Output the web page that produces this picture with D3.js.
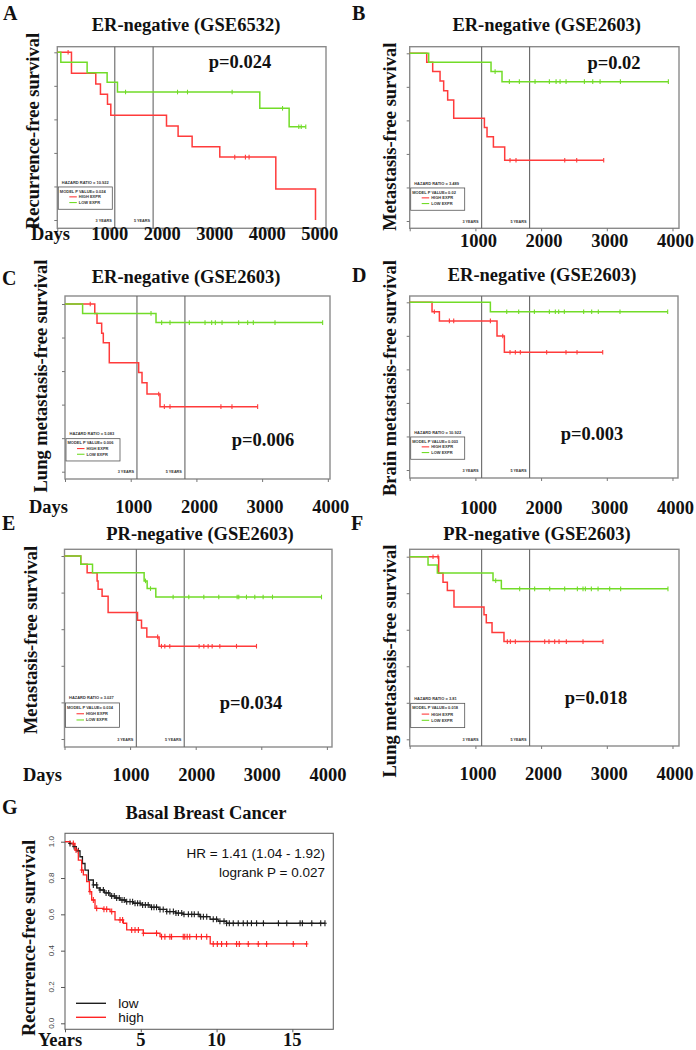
<!DOCTYPE html>
<html><head><meta charset="utf-8">
<script src="https://cdn.jsdelivr.net/npm/d3@7"></script>
<style>body{margin:0;background:#fff}svg{display:block}</style>
</head><body>
<svg id="c" width="696" height="1050"></svg>
<script>
// ---------------- DATA ----------------
const survTicks = [0, 0.2, 0.4, 0.6, 0.8, 1.0];
const dayTicksA = [1000, 2000, 3000, 4000, 5000];
const dayTicks = [1000, 2000, 3000, 4000];
const yearTicks = [5, 10, 15];
const milestones = [1095, 1825];
const milestoneLabels = ["3 YEARS", "5 YEARS"];
const legendLabels = ["HIGH EXPR", "LOW EXPR"];

// Panel A: ER-negative (GSE6532)
const A_high = [[0,1],[270,0.875],[733,0.811],[822,0.75],[956,0.69],[1019,0.624],[2080,0.56],[2301,0.5],[2568,0.437],[3095,0.375],[4162,0.185],[4918,0]];
const A_highEnd = 4918;
const A_highCens = [206, 3380, 3583, 3653];
const A_low = [[0,1],[67,0.94],[568,0.878],[949,0.821],[1146,0.763],[3857,0.666],[4416,0.556]];
const A_lowEnd = 4733;
const A_lowCens = [1300, 2290, 2480, 3330, 4290, 4600, 4646, 4733];

// Panel B: ER-negative (GSE2603) metastasis-free
const B_high = [[0,1],[259,0.946],[350,0.891],[462,0.835],[517,0.777],[578,0.722],[670,0.612],[1137,0.557],[1177,0.503],[1274,0.441],[1446,0.362]];
const B_highEnd = 2953;
const B_highCens = [1527, 1618, 2360, 2542, 2953];
const B_low = [[0,1],[289,0.946],[1238,0.891],[1405,0.831]];
const B_lowEnd = 3937;
const B_lowCens = [1300, 1517, 1669, 1908, 2126, 2228, 2289, 2380, 2659, 2786, 2898, 3207, 3937];

// Panel C: lung metastasis-free
const C_high = [[0,1],[453,0.944],[487,0.885],[558,0.825],[583,0.769],[674,0.65],[1121,0.592],[1172,0.531],[1248,0.463],[1446,0.388]];
const C_highEnd = 2932;
const C_highCens = [384, 1426, 1512, 1598, 2373, 2541, 2932];
const C_low = [[0,1],[268,0.944],[1385,0.889]];
const C_lowEnd = 3921;
const C_lowCens = [1309, 1471, 1598, 1892, 2131, 2232, 2288, 2390, 2643, 2780, 2866, 3196, 3921];

// Panel D: brain metastasis-free
const D_high = [[0,1],[340,0.944],[452,0.889],[1329,0.799],[1441,0.702]];
const D_highEnd = 2938;
const D_highCens = [375, 604, 670, 1228, 1416, 1527, 1608, 1684, 2085, 2379, 2547, 2938];
const D_low = [[0,1],[1228,0.944]];
const D_lowEnd = 3927;
const D_lowCens = [1477, 1659, 1898, 2126, 2217, 2268, 2354, 2648, 2770, 2871, 3201, 3927];

// Panel E: PR-negative metastasis-free
const E_high = [[0,1],[248,0.955],[345,0.909],[497,0.864],[512,0.818],[573,0.78],[665,0.691],[1113,0.649],[1174,0.607],[1255,0.558],[1442,0.507]];
const E_highEnd = 2927;
const E_highCens = [1420, 1478, 1529, 1605, 2052, 2124, 2190, 2251, 2368, 2622, 2927];
const E_low = [[0,1],[248,0.955],[427,0.909],[1214,0.864],[1260,0.822],[1392,0.776]];
const E_lowEnd = 3918;
const E_lowCens = [1235, 1311, 1656, 1895, 2124, 2352, 2632, 2657, 2774, 2901, 3028, 3171, 3918];

// Panel F: PR-negative lung metastasis-free
const F_high = [[0,1],[441,0.909],[507,0.86],[573,0.815],[674,0.724],[1131,0.682],[1166,0.638],[1253,0.585],[1435,0.535]];
const F_highEnd = 2942;
const F_highCens = [355, 431, 1486, 1532, 1608, 2055, 2120, 2207, 2273, 2384, 2638, 2942];
const F_low = [[0,1],[279,0.955],[421,0.911],[1268,0.869],[1395,0.824]];
const F_lowEnd = 3931;
const F_lowCens = [1309, 1674, 1902, 2131, 2359, 2552, 2638, 2674, 2765, 2867, 3044, 3211, 3931];

// Panel G: Basal breast cancer (years)
const G_low = [[0,1],[0.3,0.99],[0.55,0.973],[0.75,0.95],[0.99,0.917],[1.15,0.88],[1.32,0.844],[1.54,0.789],[1.87,0.762],[2.1,0.745],[2.31,0.734],[2.6,0.718],[2.97,0.701],[3.3,0.69],[3.63,0.679],[4.0,0.67],[4.51,0.661],[5.0,0.652],[5.61,0.639],[6.2,0.627],[6.71,0.615],[7.3,0.607],[7.8,0.6],[8.9,0.587],[9.57,0.573],[10.1,0.562],[10.66,0.551]];
const G_lowEnd = 17.15;
const G_lowCens = [0.33,0.6,0.88,1.87,2.09,2.31,2.53,2.71,2.88,3.08,3.25,3.41,3.58,3.76,3.91,4.07,4.29,4.46,4.62,4.79,4.95,5.12,5.3,5.49,5.71,5.87,6.04,6.27,6.48,6.71,6.92,7.15,7.32,7.48,7.7,7.85,8.14,8.36,8.53,8.79,8.95,9.13,9.35,9.78,10.0,10.22,10.49,10.66,10.84,11.1,11.43,11.76,12.03,12.3,12.64,13.09,14.08,14.63,15.51,15.66,16.28,16.87,17.15];
const G_high = [[0,1],[0.33,0.99],[0.66,0.954],[0.88,0.899],[1.1,0.844],[1.21,0.817],[1.43,0.78],[1.61,0.725],[1.76,0.679],[1.98,0.633],[2.53,0.628],[2.97,0.615],[3.3,0.569],[3.85,0.551],[4.07,0.514],[5.17,0.496],[6.27,0.477],[9.58,0.437]];
const G_highEnd = 15.94;
const G_highCens = [0.55,0.73,1.1,1.65,1.87,2.09,2.57,2.75,3.08,3.63,3.8,4.4,4.62,4.84,5.17,6.04,6.37,6.59,6.92,7.03,7.8,7.9,8.06,8.23,8.67,9.0,9.35,9.78,10.05,10.33,10.66,11.32,11.5,12.09,12.75,13.3,15.06,15.94];

// ---------------- DRAWING ----------------
const svg = d3.select("#c");
const SERIF = "'Liberation Serif','Times New Roman',serif";
const SANS = "'Liberation Sans',Arial,sans-serif";
const RED = "#ff3b3b", GREEN = "#72dc28";

function stepAt(data, t) { let s = data[0][1]; for (const d of data) if (d[0] <= t) s = d[1]; return s; }

function boldText(x, y, txt, size, anchor, rot) {
  const t = svg.append("text").attr("font-family", SERIF).attr("font-weight", "bold")
    .attr("font-size", size).attr("text-anchor", anchor || "start").attr("fill", "#111").text(txt);
  if (rot) t.attr("transform", `translate(${x},${y}) rotate(-90)`).attr("dy", "0.35em");
  else t.attr("x", x).attr("y", y);
  return t;
}

function drawCurve(g, x, y, data, end, cens, color, ch, sw) {
  const pts = data.concat([[end, data[data.length - 1][1]]]);
  g.append("path").attr("d", d3.line().x(d => x(d[0])).y(d => y(d[1])).curve(d3.curveStepAfter)(pts))
    .attr("fill", "none").attr("stroke", color).attr("stroke-width", sw || 1.5);
  g.selectAll(null).data(cens).enter().append("line")
    .attr("x1", d => x(d)).attr("x2", d => x(d))
    .attr("y1", d => y(stepAt(data, d)) - ch).attr("y2", d => y(stepAt(data, d)) + ch)
    .attr("stroke", color).attr("stroke-width", 1.1);
}

const panels = [
  {L:"A", lx:3, ly:20, title:"ER-negative (GSE6532)", tx:186, ty:31, ylab:"Recurrence-free survival", ylx:33, yly:131,
   x0:57.3, x1:326, xMax:5118, top:46.7, bot:228.3, y0:220, y1:52.3, ticks:dayTicksA, tly:240, tdx:0, days:31,
   hr:"10.922", mp:"0.024", p:"p=0.024", px:240, py:68,
   high:A_high, highEnd:A_highEnd, highCens:A_highCens, low:A_low, lowEnd:A_lowEnd, lowCens:A_lowCens},
  {L:"B", lx:352, ly:20, title:"ER-negative (GSE2603)", tx:546.7, ty:31, ylab:"Metastasis-free survival", ylx:389.7, yly:136.7,
   x0:409.7, x1:679, xMax:4099, top:46.7, bot:228.3, y0:221, y1:53.3, ticks:dayTicks, tly:247, tdx:3, days:null,
   hr:"3.489", mp:"0.02", p:"p=0.02", px:614, py:69,
   high:B_high, highEnd:B_highEnd, highCens:B_highCens, low:B_low, lowEnd:B_lowEnd, lowCens:B_lowCens},
  {L:"C", lx:2, ly:285, title:"ER-negative (GSE2603)", tx:186, ty:283, ylab:"Lung metastasis-free survival", ylx:40.7, yly:376,
   x0:65, x1:330, xMax:4033, top:296, bot:479, y0:471.7, y1:304, ticks:dayTicks, tly:513, tdx:3, days:29,
   hr:"5.083", mp:"0.006", p:"p=0.006", px:263, py:446,
   high:C_high, highEnd:C_highEnd, highCens:C_highCens, low:C_low, lowEnd:C_lowEnd, lowCens:C_lowCens},
  {L:"D", lx:352, ly:282, title:"ER-negative (GSE2603)", tx:542, ty:281, ylab:"Brain metastasis-free survival", ylx:389.7, yly:378,
   x0:409.7, x1:678, xMax:4084, top:296, bot:478, y0:470, y1:302.3, ticks:dayTicks, tly:514, tdx:3, days:null,
   hr:"10.922", mp:"0.003", p:"p=0.003", px:592, py:440,
   high:D_high, highEnd:D_highEnd, highCens:D_highCens, low:D_low, lowEnd:D_lowEnd, lowCens:D_lowCens},
  {L:"E", lx:2, ly:530, title:"PR-negative (GSE2603)", tx:200, ty:540, ylab:"Metastasis-free survival", ylx:31, yly:640,
   x0:64.5, x1:332, xMax:4078, top:549.3, bot:747, y0:739, y1:556, ticks:dayTicks, tly:781, tdx:1, days:23,
   hr:"3.027", mp:"0.034", p:"p=0.034", px:251, py:709,
   high:E_high, highEnd:E_highEnd, highCens:E_highCens, low:E_low, lowEnd:E_lowEnd, lowCens:E_lowCens},
  {L:"F", lx:351, ly:530, title:"PR-negative (GSE2603)", tx:537, ty:540, ylab:"Lung metastasis-free survival", ylx:389.7, yly:661,
   x0:409.7, x1:679, xMax:4099, top:549.3, bot:746, y0:739.3, y1:556.7, ticks:dayTicks, tly:780, tdx:2.5, days:null,
   hr:"3.81", mp:"0.018", p:"p=0.018", px:596, py:704,
   high:F_high, highEnd:F_highEnd, highCens:F_highCens, low:F_low, lowEnd:F_lowEnd, lowCens:F_lowCens}
];

panels.forEach(p => {
  const g = svg.append("g");
  const x = d3.scaleLinear().domain([0, p.xMax]).range([p.x0, p.x1]);
  const y = d3.scaleLinear().domain([0, 1]).range([p.y0, p.y1]);
  boldText(p.lx, p.ly, p.L, 20);
  boldText(p.tx, p.ty, p.title, 18.5, "middle");
  boldText(p.ylx, p.yly, p.ylab, 18.5, "middle", true);

  g.append("rect").attr("x", p.x0).attr("y", p.top).attr("width", p.x1 - p.x0).attr("height", p.bot - p.top)
    .attr("fill", "none").attr("stroke", "#8a8a8a").attr("stroke-width", 1.4);
  const ya = g.append("g").attr("transform", `translate(${p.x0},0)`)
    .call(d3.axisLeft(y).tickValues(survTicks).tickSize(3).tickFormat(""));
  ya.select(".domain").remove(); ya.selectAll("line").attr("stroke", "#777");
  const xa = g.append("g").attr("transform", `translate(0,${p.bot})`)
    .call(d3.axisBottom(x).tickValues([0].concat(p.ticks)).tickSize(3).tickFormat(""));
  xa.select(".domain").remove(); xa.selectAll("line").attr("stroke", "#777");

  milestones.forEach((m, i) => {
    g.append("line").attr("x1", x(m)).attr("x2", x(m)).attr("y1", p.top).attr("y2", p.bot)
      .attr("stroke", "#666").attr("stroke-width", 1.1);
    g.append("text").attr("x", x(m) - 3).attr("y", y(0) + 1.5).attr("text-anchor", "end")
      .attr("font-family", SANS).attr("font-weight", "bold").attr("font-size", 3.8).attr("fill", "#333").text(milestoneLabels[i]);
  });

  // legend
  const lg = g.append("g").attr("font-family", SANS).attr("font-weight", "bold").attr("font-size", 4).attr("fill", "#333");
  lg.append("text").attr("x", p.x0 + 4.5).attr("y", y(0.225) + 1.4).text("HAZARD RATIO = " + p.hr);
  lg.append("rect").attr("x", p.x0 + 1).attr("y", y(0.197)).attr("width", 54).attr("height", y(0.064) - y(0.197))
    .attr("fill", "none").attr("stroke", "#555").attr("stroke-width", 0.8);
  lg.append("text").attr("x", p.x0 + 2.5).attr("y", y(0.172) + 1.4).text("MODEL P VALUE= " + p.mp);
  [RED, GREEN].forEach((c, i) => {
    const yy = y(0.138 - i * 0.034);
    lg.append("line").attr("x1", p.x0 + 12).attr("x2", p.x0 + 19.5).attr("y1", yy).attr("y2", yy).attr("stroke", c).attr("stroke-width", 1.1);
    lg.append("text").attr("x", p.x0 + 21.5).attr("y", yy + 1.4).text(legendLabels[i]);
  });

  drawCurve(g, x, y, p.high, p.highEnd, p.highCens, RED, 2.3, 1.5);
  drawCurve(g, x, y, p.low, p.lowEnd, p.lowCens, GREEN, 2.3, 1.5);

  boldText(p.px, p.py, p.p, 18.5, "middle");
  p.ticks.forEach(t => boldText(x(t) + p.tdx, p.tly, String(t), 18.5, "middle"));
  if (p.days !== null) boldText(p.days, p.tly, "Days", 18.5, "start");
});

// ---- Panel G ----
(function () {
  const g = svg.append("g");
  const x0 = 65, x1 = 333.3, top = 833.3, bot = 1029.3;
  const x = d3.scaleLinear().domain([0, 17.7]).range([x0, x1]);
  const y = d3.scaleLinear().domain([0, 1]).range([1023.3, 841.7]);
  boldText(2, 814, "G", 20);
  boldText(206, 819, "Basal Breast Cancer", 18.5, "middle");
  boldText(28.3, 938, "Recurrence-free survival", 18.5, "middle", true);

  g.append("rect").attr("x", x0).attr("y", top).attr("width", x1 - x0).attr("height", bot - top)
    .attr("fill", "none").attr("stroke", "#666").attr("stroke-width", 1.1);
  const ya = g.append("g").attr("transform", `translate(${x0},0)`)
    .call(d3.axisLeft(y).tickValues(survTicks).tickSize(4).tickFormat(""));
  ya.select(".domain").remove(); ya.selectAll("line").attr("stroke", "#555");
  survTicks.forEach(v => {
    g.append("text").attr("transform", `translate(${54},${y(v)}) rotate(-90)`).attr("text-anchor", "middle")
      .attr("font-family", SANS).attr("font-size", 8).attr("fill", "#444").text(d3.format(".1f")(v));
  });
  const xa = g.append("g").attr("transform", `translate(0,${bot})`)
    .call(d3.axisBottom(x).tickValues([0].concat(yearTicks)).tickSize(3).tickFormat(""));
  xa.select(".domain").remove(); xa.selectAll("line").attr("stroke", "#555");

  drawCurve(g, x, y, G_low, G_lowEnd, G_lowCens, "#1e1e1e", 3, 1.3);
  drawCurve(g, x, y, G_high, G_highEnd, G_highCens, "#ff2424", 3, 1.3);
  // horizontal bars of "+" censor marks
  [[G_low, G_lowCens, "#1e1e1e"], [G_high, G_highCens, "#ff2424"]].forEach(([d, c, col]) => {
    g.selectAll(null).data(c).enter().append("line")
      .attr("x1", t => x(t) - 1.8).attr("x2", t => x(t) + 1.8)
      .attr("y1", t => y(stepAt(d, t))).attr("y2", t => y(stepAt(d, t)))
      .attr("stroke", col).attr("stroke-width", 1);
  });

  g.append("text").attr("x", 325).attr("y", 858).attr("text-anchor", "end").attr("font-family", SANS)
    .attr("font-size", 13.5).attr("fill", "#111").text("HR = 1.41 (1.04 - 1.92)");
  g.append("text").attr("x", 325).attr("y", 876.5).attr("text-anchor", "end").attr("font-family", SANS)
    .attr("font-size", 13.5).attr("fill", "#111").text("logrank P = 0.027");

  [["low", "#1e1e1e", 1003.3], ["high", "#ff2424", 1017.3]].forEach(([t, c, yy]) => {
    g.append("line").attr("x1", 76).attr("x2", 106).attr("y1", yy).attr("y2", yy).attr("stroke", c).attr("stroke-width", 1.4);
    g.append("text").attr("x", 118.3).attr("y", yy + 4.5).attr("font-family", SANS).attr("font-size", 13.5)
      .attr("fill", "#111").text(t);
  });

  yearTicks.forEach(t => boldText(x(t), 1045.5, String(t), 18.5, "middle"));
  boldText(38, 1045.5, "Years", 18.5, "start");
})();
</script>
</body></html>
